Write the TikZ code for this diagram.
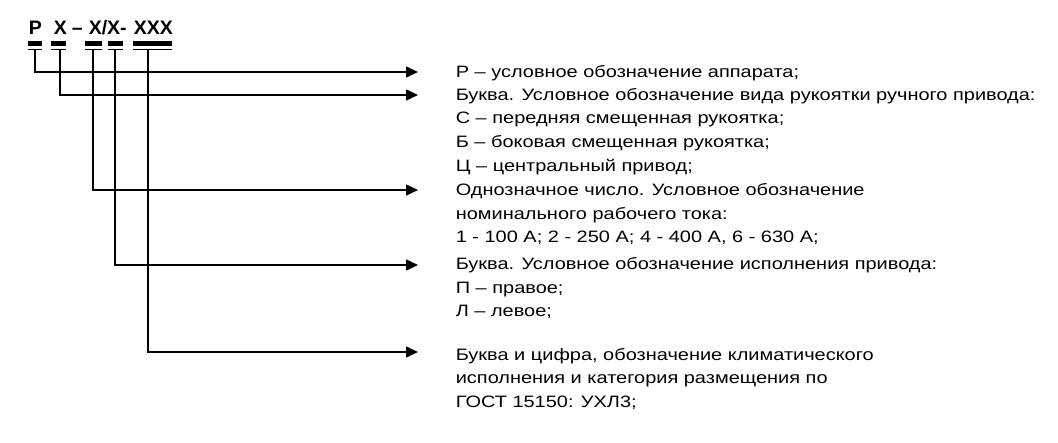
\documentclass[tikz,border=0pt]{standalone}
\usepackage{fontspec}
\setmainfont{Liberation Sans}
\newfontfamily\widesans[FakeStretch=1.21]{Liberation Sans}
\usetikzlibrary{arrows.meta,positioning}

\begin{document}
\begin{tikzpicture}[x=1pt, y=-1pt, line width=1.6pt, line join=miter,
    >={Triangle[length=12pt,width=11pt]},
    lbl/.style={anchor=base west, inner sep=0pt, font=\widesans\fontsize{16.5}{19}\selectfont},
    code/.style={anchor=base west, inner sep=0pt, font=\bfseries\fontsize{19.5}{22}\selectfont}]
  \useasboundingbox (0,0) rectangle (1058,443);
  % header
  \foreach \n/\x/\t in {1/28/{Р}, 2/53/{Х}, 3/71/{–}, 4/88/{Х/Х-}, 5/133/{ХХХ}}
    \node[code] (c\n) at (\x,35) {\t};
  % underlines and start points
  \foreach \n/\xa/\xb/\xl in {1/28/42/35, 2/51/66/60, 3/85/102/93, 4/108/123/115, 5/133/172/148} {
    \fill (\xa,41.5) rectangle (\xb,46);
    \draw[line width=1.5pt] (\xa,49.5) -- (\xb,49.5);
    \coordinate (s\n) at (\xl,49.5);
  }
  % arrow ends
  \foreach \n/\y in {1/72, 2/95, 3/190, 4/265, 5/352}
    \coordinate (e\n) at (418,\y);
  \foreach \n in {1,...,5}
    \draw[->] (s\n) |- (e\n);
  % text
  \foreach \n/\y/\t in {
      1/78/{Р – условное обозначение аппарата;},
      2/101/{Буква. Условное обозначение вида рукоятки ручного привода:},
      3/124/{С – передняя смещенная рукоятка;},
      4/148/{Б – боковая смещенная рукоятка;},
      5/172/{Ц – центральный привод;},
      6/196/{Однозначное число. Условное обозначение},
      7/220/{номинального рабочего тока:},
      8/243/{1 - 100 А; 2 - 250 А; 4 - 400 А, 6 - 630 А;},
      9/270/{Буква. Условное обозначение исполнения привода:},
      10/294/{П – правое;},
      11/317/{Л – левое;},
      12/361/{Буква и цифра, обозначение климатического},
      13/384/{исполнения и категория размещения по},
      14/408/{ГОСТ 15150: УХЛ3;}}
    \node[lbl] (t\n) at (455,\y) {\t};
\end{tikzpicture}
\end{document}
